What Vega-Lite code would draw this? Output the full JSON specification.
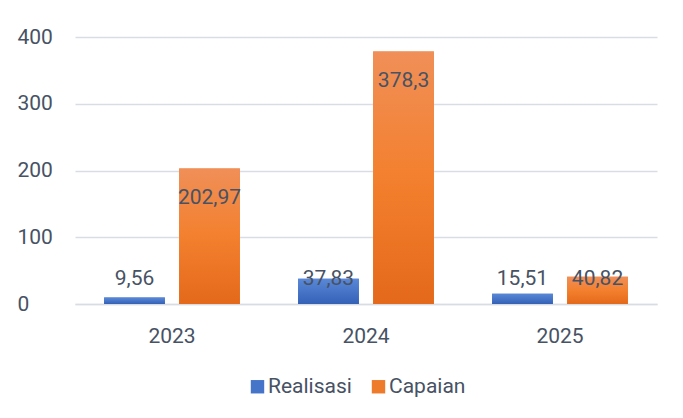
{
  "$schema": "https://vega.github.io/schema/vega-lite/v6.json",
  "width": 582,
  "height": 267,
  "autosize": {"type": "none"},
  "padding": {"left": 75, "top": 37, "right": 26, "bottom": 114},
  "background": "white",
  "config": {
    "view": {"stroke": null},
    "font": "Roboto",
    "axis": {"labelFont": "Roboto", "labelFontSize": 21, "labelColor": "#475264"},
    "legend": {"labelFont": "Roboto", "labelFontSize": 21, "labelColor": "#475264"}
  },
  "data": {
    "values": [
      {"year": "2023", "series": "Realisasi", "value": 9.56, "label": "9,56"},
      {"year": "2023", "series": "Capaian", "value": 202.97, "label": "202,97"},
      {"year": "2024", "series": "Realisasi", "value": 37.83, "label": "37,83"},
      {"year": "2024", "series": "Capaian", "value": 378.3, "label": "378,3"},
      {"year": "2025", "series": "Realisasi", "value": 15.51, "label": "15,51"},
      {"year": "2025", "series": "Capaian", "value": 40.82, "label": "40,82"}
    ]
  },
  "encoding": {
    "x": {
      "field": "year", "type": "nominal",
      "scale": {"paddingInner": 0.3, "paddingOuter": 0.15},
      "axis": {"title": null, "labelAngle": 0, "ticks": false, "domainColor": "#d9dde3", "domainWidth": 1.5, "labelPadding": 21, "grid": false}
    },
    "xOffset": {
      "field": "series", "type": "nominal", "sort": ["Realisasi", "Capaian"],
      "scale": {"paddingInner": 0.19, "paddingOuter": 0}
    }
  },
  "layer": [
    {
      "mark": {"type": "bar"},
      "encoding": {
        "y": {
          "field": "value", "type": "quantitative",
          "scale": {"domain": [0, 400], "nice": false},
          "axis": {"title": null, "values": [0, 100, 200, 300, 400], "domain": false, "ticks": false, "gridColor": "#d9dde3", "gridWidth": 1.5, "labelAlign": "left", "labelPadding": 58}
        },
        "color": {
          "field": "series", "type": "nominal", "sort": ["Realisasi", "Capaian"],
          "scale": {"domain": ["Realisasi", "Capaian"], "range": ["#4674c8", "#ee7b2c"]},
          "legend": {"title": null, "orient": "none", "direction": "horizontal", "legendX": 172, "legendY": 339, "symbolType": "square", "symbolSize": 180, "symbolStrokeWidth": 0, "labelOffset": 0, "columnPadding": 16}
        }
      }
    },
    {
      "mark": {"type": "bar"},
      "encoding": {
        "y": {"field": "value", "type": "quantitative"},
        "fill": {
          "condition": {
            "test": "datum.series === 'Realisasi'",
            "value": {"gradient": "linear", "x1": 0, "y1": 0, "x2": 0, "y2": 1, "stops": [{"offset": 0, "color": "#5a88d8"}, {"offset": 1, "color": "#3461b6"}]}
          },
          "value": {"gradient": "linear", "x1": 0, "y1": 0, "x2": 0, "y2": 1, "stops": [{"offset": 0, "color": "#f08f58"}, {"offset": 0.5, "color": "#f3802e"}, {"offset": 1, "color": "#e4691a"}]}
        }
      }
    },
    {
      "transform": [{"calculate": "max(datum.value - 43.5, 37.5)", "as": "labelY"}],
      "mark": {"type": "text", "baseline": "middle", "align": "center", "fontSize": 21, "font": "Roboto", "color": "#475264"},
      "encoding": {
        "y": {"field": "labelY", "type": "quantitative"},
        "text": {"field": "label"}
      }
    }
  ]
}
